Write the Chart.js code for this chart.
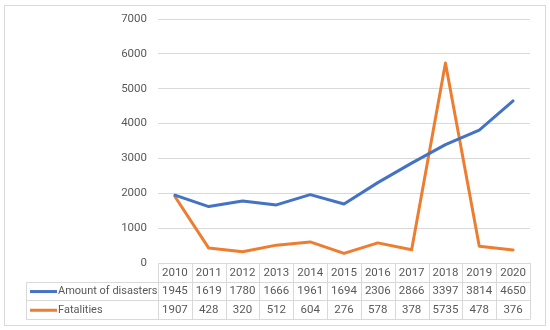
<!DOCTYPE html>
<html lang="en">
<head>
  <meta charset="UTF-8" />
  <title>Disasters and fatalities</title>
  <script src="https://cdn.jsdelivr.net/npm/chart.js"></script>
  <style>
    body { margin: 0; background: #fff; }
    canvas { display: block; }
  </style>
</head>
<body>
  <canvas id="chart" width="550" height="330"></canvas>

  <script>
  const years = ["2010", "2011", "2012", "2013", "2014", "2015", "2016", "2017", "2018", "2019", "2020"];
  const disasters = [1945, 1619, 1780, 1666, 1961, 1694, 2306, 2866, 3397, 3814, 4650];
  const fatalities = [1907, 428, 320, 512, 604, 276, 578, 378, 5735, 478, 376];
  const seriesNames = ["Amount of disasters", "Fatalities"];
  const seriesColors = ["#4472C4", "#ED7D31"];

  const FONT = "Roboto, sans-serif";
  const TEXT = '#595959';
  const GRID = '#d9d9d9';

  // white background and the light frame round the whole picture
  const framePlugin = {
    id: 'frame',
    beforeDraw(chart) {
      const c = chart.ctx;
      c.save();
      c.fillStyle = '#fff';
      c.fillRect(0, 0, chart.width, chart.height);
      c.strokeStyle = GRID;
      c.lineWidth = 1;
      c.strokeRect(4.5, 5.5, 541, 320);
      c.restore();
    }
  };

  // data table under the plot, columns taken from the x scale
  const tablePlugin = {
    id: 'dataTable',
    afterDraw(chart) {
      const c = chart.ctx;
      const x = chart.scales.x;
      const top = chart.chartArea.bottom;
      const rowH = 18.7;
      const colW = x.width / years.length;
      const left = x.left, right = x.right;
      const legendLeft = 26.5;
      const rows = [disasters, fatalities];

      c.save();
      c.strokeStyle = GRID;
      c.lineWidth = 1;
      c.beginPath();
      c.moveTo(left, top + 0.5); c.lineTo(right, top + 0.5);
      for (let r = 1; r <= 3; r++) {
        const y = Math.round(top + r * rowH) + 0.5;
        c.moveTo(legendLeft, y); c.lineTo(right, y);
      }
      const bottom = Math.round(top + 3 * rowH) + 0.5;
      for (let i = 0; i <= years.length; i++) {
        const vx = Math.round(left + i * colW) + 0.5;
        c.moveTo(vx, top); c.lineTo(vx, bottom);
      }
      c.moveTo(legendLeft, Math.round(top + rowH) + 0.5);
      c.lineTo(legendLeft, bottom);
      c.stroke();

      c.font = '11.5px ' + FONT;
      c.fillStyle = TEXT;
      c.textAlign = 'center';
      c.textBaseline = 'middle';
      years.forEach((yr, i) => {
        c.fillText(yr, x.getPixelForValue(i), top + rowH / 2 + 0.5);
      });
      rows.forEach((vals, r) => {
        const cy = top + rowH * (r + 1.5) + 0.5;
        vals.forEach((v, i) => {
          c.fillText(String(v), x.getPixelForValue(i), cy);
        });
      });

      // legend keys inside the table
      c.textAlign = 'left';
      c.font = '11px ' + FONT;
      seriesNames.forEach((name, r) => {
        const cy = top + rowH * (r + 1.5) + 0.5;
        c.strokeStyle = seriesColors[r];
        c.lineWidth = 3;
        c.beginPath();
        c.moveTo(30, cy); c.lineTo(57, cy);
        c.stroke();
        c.fillStyle = TEXT;
        c.fillText(name, 58, cy);
      });
      c.restore();
    }
  };

  new Chart(document.getElementById('chart'), {
    type: 'line',
    data: {
      labels: years,
      datasets: [
        { label: seriesNames[0], data: disasters, borderColor: seriesColors[0], backgroundColor: seriesColors[0] },
        { label: seriesNames[1], data: fatalities, borderColor: seriesColors[1], backgroundColor: seriesColors[1] }
      ]
    },
    options: {
      responsive: false,
      animation: false,
      layout: { padding: { top: 19, right: 20, bottom: 67, left: 0 } },
      elements: {
        line: { borderWidth: 3, tension: 0, borderCapStyle: 'round', borderJoinStyle: 'round' },
        point: { radius: 0 }
      },
      plugins: {
        legend: { display: false },
        tooltip: { enabled: false }
      },
      scales: {
        x: {
          display: false,
          offset: true
        },
        y: {
          min: 0,
          max: 7000,
          ticks: {
            stepSize: 1000, color: TEXT, padding: 11,
            font: { family: FONT, size: 11.5 },
            callback: (v) => String(v)
          },
          grid: { color: GRID, drawTicks: false },
          border: { display: false },
          afterFit(scale) { scale.width = 158; }
        }
      }
    },
    plugins: [framePlugin, tablePlugin]
  });
  </script>
</body>
</html>
